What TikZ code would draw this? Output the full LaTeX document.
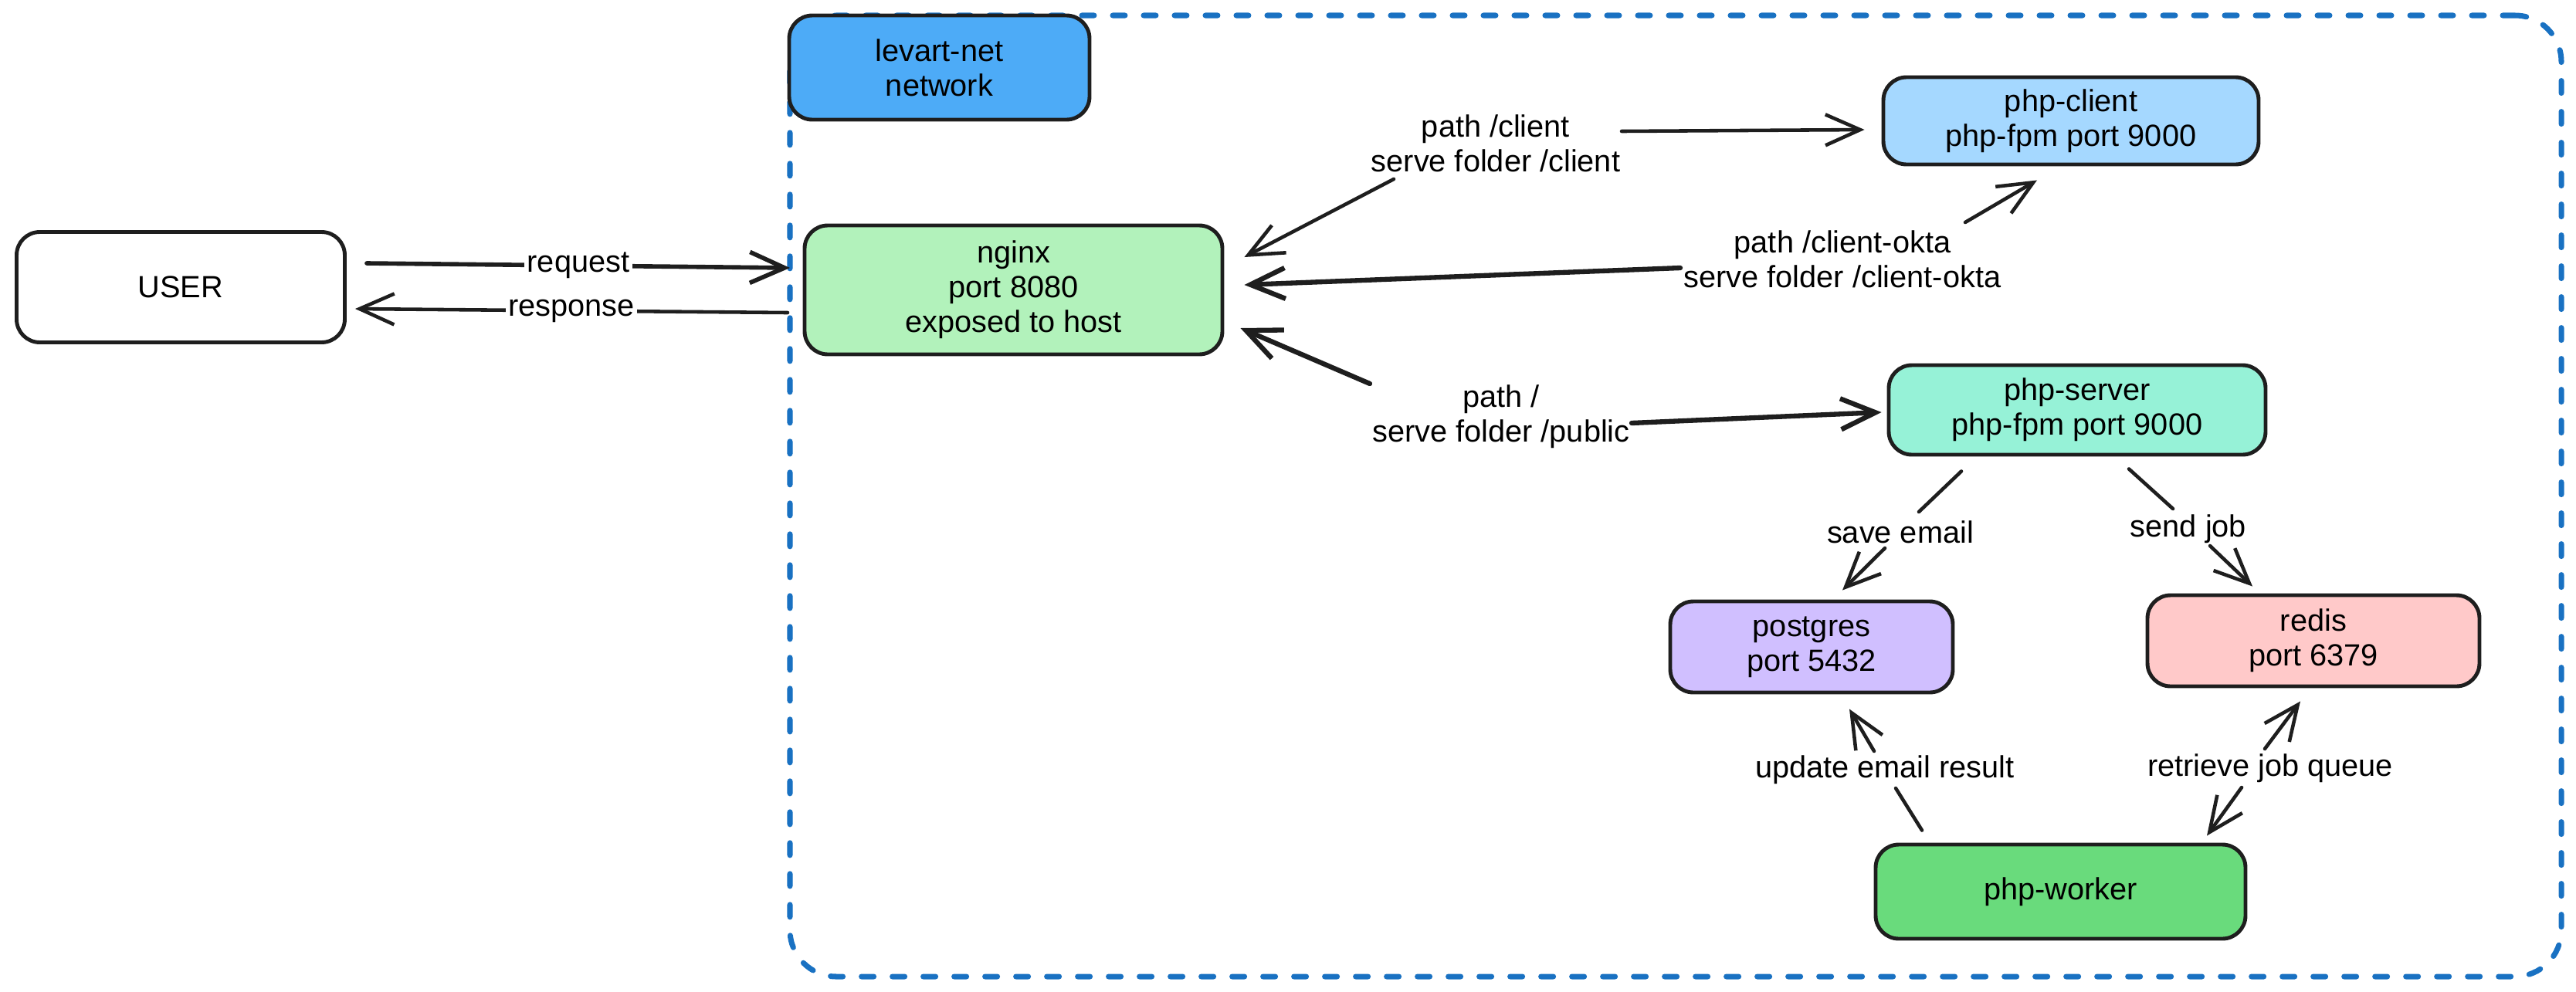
\documentclass[tikz,border=0pt]{standalone}
\usepackage{fontspec}
\setmainfont{Liberation Sans}
\usepackage{tikz}
\usetikzlibrary{arrows.meta}

\definecolor{ink}{HTML}{1E1E1E}
\definecolor{netblue}{HTML}{1971C2}
\definecolor{levblue}{HTML}{4DABF7}
\definecolor{nginxgreen}{HTML}{B2F2BB}
\definecolor{clientblue}{HTML}{A5D8FF}
\definecolor{servermint}{HTML}{96F2D7}
\definecolor{pgviolet}{HTML}{D0BFFF}
\definecolor{redispink}{HTML}{FFC9C9}
\definecolor{workergreen}{HTML}{69DB7C}

\begin{document}
\begin{tikzpicture}[>={Straight Barb[length=4.5mm,width=4mm]},
    font=\fontsize{11.3pt}{12.8pt}\selectfont,
    box/.style={draw=ink, line width=1.4pt, rounded corners=0.3cm, align=center, inner sep=0pt},
    lbl/.style={align=center, inner sep=1pt},
    arr/.style={draw=ink, line width=1.3pt, ->, line cap=round, line join=round},
    seg/.style={draw=ink, line width=1.3pt, line cap=round}]
    \useasboundingbox (0,0) rectangle (33.36,-12.84);

    % Docker network
    \node (net) at (21.70,-6.425) [draw=netblue, line width=2pt, dash pattern=on 0.16cm off 0.24cm, line cap=round, rounded corners=0.6cm, minimum width=22.94cm, minimum height=12.45cm] {};
    \node (levart) at (12.165,-0.875) [box, fill=levblue, minimum width=3.89cm, minimum height=1.35cm] {levart-net\\network};

    % Outside
    \node (user) at (2.34,-3.72) [box, fill=white, minimum width=4.25cm, minimum height=1.43cm] {USER};
    \coordinate (reqin) at (10.23,-3.47);
    \coordinate (resout) at (10.20,-4.05);

    % Services
    \node (nginx) at (13.125,-3.755) [box, fill=nginxgreen, minimum width=5.41cm, minimum height=1.67cm] {nginx\\port 8080\\exposed to host};
    \node (client) at (26.82,-1.565) [box, fill=clientblue, minimum width=4.86cm, minimum height=1.13cm] {php-client\\php-fpm port 9000};
    \node (server) at (26.90,-5.31) [box, fill=servermint, minimum width=4.88cm, minimum height=1.16cm] {php-server\\php-fpm port 9000};
    \node (postgres) at (23.46,-8.38) [box, fill=pgviolet, minimum width=3.66cm, minimum height=1.18cm] {postgres\\port 5432};
    \node (redis) at (29.96,-8.30) [box, fill=redispink, minimum width=4.30cm, minimum height=1.18cm] {redis\\port 6379};
    \node (worker) at (26.685,-11.55) [box, fill=workergreen, minimum width=4.79cm, minimum height=1.22cm] {php-worker};

    % Labels
    \node (lclient) at (19.37,-1.855) [lbl] {path /client\\serve folder /client};
    \node (lokta) at (23.86,-3.355) [lbl] {path /client-okta\\serve folder /client-okta};
    \node (lpublic) at (19.44,-5.395) [lbl] {path /\\serve folder /public};
    \node (lsave) at (24.61,-6.89) [lbl] {save email};
    \node (lsend) at (28.34,-6.85) [lbl] {send job};
    \node (lupdate) at (24.41,-9.97) [lbl] {update email result};
    \node (lqueue) at (29.40,-9.95) [lbl] {retrieve job queue};

    % User traffic
    \draw[arr, line width=1.6pt] ([shift={(0.26,0.31)}]user.east) -- (reqin) node[midway, lbl, fill=white] {request};
    \draw[arr] (resout) -- ([shift={(0.11,-0.28)}]user.east) node[midway, lbl, fill=white] {response};

    % nginx routes
    \draw[arr] ([shift={(-1.32,-0.465)}]lclient.center) -- ([shift={(0.26,0.425)}]nginx.east);
    \draw[arr] ([shift={(1.63,0.155)}]lclient.center) -- ([shift={(-0.22,-0.115)}]client.west);
    \draw[arr] ([shift={(1.59,0.475)}]lokta.center) -- ([shift={(-0.44,-0.18)}]client.south);
    \draw[arr, line width=1.8pt] ([shift={(-2.10,-0.115)}]lokta.center) -- ([shift={(0.26,0.065)}]nginx.east);
    \draw[arr, line width=1.8pt] ([shift={(-1.70,0.425)}]lpublic.center) -- ([shift={(0.21,-0.495)}]nginx.east);
    \draw[arr, line width=1.8pt] ([shift={(1.69,-0.085)}]lpublic.center) -- ([shift={(-0.07,-0.03)}]server.west);

    % Backend
    \draw[seg] ([shift={(-1.50,-0.19)}]server.south) -- ([shift={(0.24,0.26)}]lsave.center);
    \draw[arr] ([shift={(-0.20,-0.21)}]lsave.center) -- ([shift={(0.40,0.12)}]postgres.north);
    \draw[seg] ([shift={(0.67,-0.16)}]server.south) -- ([shift={(-0.20,0.26)}]lsend.center);
    \draw[arr] ([shift={(0.28,-0.22)}]lsend.center) -- ([shift={(-0.79,0.09)}]redis.north);
    \draw[seg] ([shift={(-1.795,0.16)}]worker.north) -- ([shift={(0.14,-0.24)}]lupdate.center);
    \draw[arr] ([shift={(-0.14,0.24)}]lupdate.center) -- ([shift={(0.49,-0.19)}]postgres.south);
    \draw[arr] ([shift={(-0.07,0.25)}]lqueue.center) -- ([shift={(-0.17,-0.17)}]redis.south);
    \draw[arr] ([shift={(-0.37,-0.25)}]lqueue.center) -- ([shift={(1.895,0.09)}]worker.north);
\end{tikzpicture}
\end{document}
